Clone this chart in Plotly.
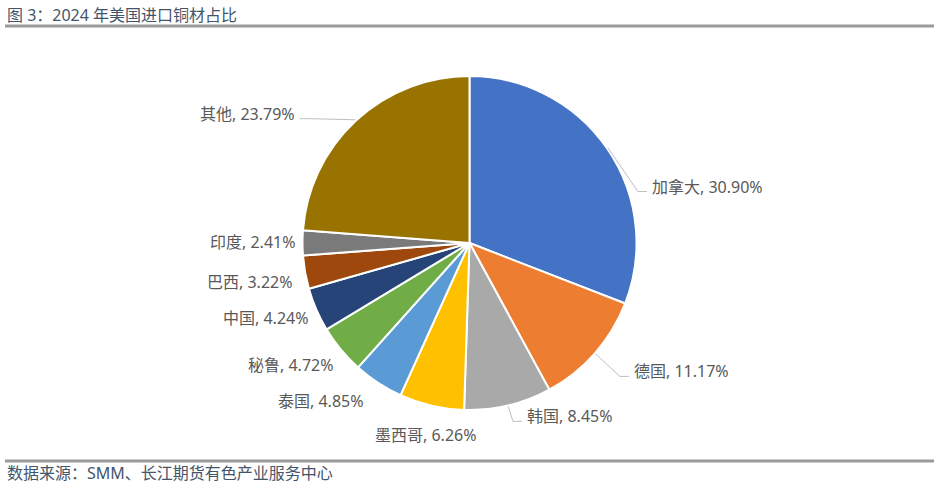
import math
import plotly.graph_objects as go

# ---- data ----
countries = ["加拿大", "德国", "韩国", "墨西哥", "泰国", "秘鲁", "中国", "巴西", "印度", "其他"]
shares = [30.90, 11.17, 8.45, 6.26, 4.85, 4.72, 4.24, 3.22, 2.41, 23.79]

# ---- style ----
colors = ["#4472C4", "#ED7D31", "#A9A9A9", "#FFC000", "#5B9BD5",
          "#70AD47", "#264478", "#9E480E", "#7A7A7A", "#997300"]
label_gap = [22, 40, 15, 17, 22, 14, 8, 12, 5, 49]          # px beyond pie edge
label_nudge = [17, -3, -4.4, 0.6, 0.1, -2.8, -1.8, -2.5, 0.3, -10.4]  # degrees
leader = [True, True, True, False, False, False, False, False, False, True]

W, H = 940, 486
CX, CY, R = 469.5, 243.0, 167.0
TXT = "#595959"
TITLE_C = "#44546A"
FONT = "Noto Sans, Noto Sans CJK SC, sans-serif"


def px(x):
    return x / W


def py(y):
    return 1 - y / H


fig = go.Figure()
fig.add_trace(go.Pie(
    labels=countries, values=shares, sort=False, direction="clockwise",
    rotation=0, textinfo="none", hoverinfo="label+value",
    marker=dict(colors=colors, line=dict(color="white", width=2)),
    domain=dict(x=[px(CX - R), px(CX + R)], y=[py(CY + R), py(CY - R)]),
    showlegend=False,
))

annotations = []
shapes = []
total = sum(shares)
cum = 0.0
for i, (name, v) in enumerate(zip(countries, shares)):
    mid = (cum + v / 2) / total * 360.0
    cum += v
    th = math.radians(mid + label_nudge[i])
    rr = R + label_gap[i]
    ax = CX + rr * math.sin(th)
    ay = CY - rr * math.cos(th)
    deg = (mid + label_nudge[i]) % 360
    if abs(deg - 180) < 15:
        xa, ya = "center", "top"
    elif math.sin(th) > 0:
        xa, ya = "left", "middle"
    else:
        xa, ya = "right", "middle"
    annotations.append(dict(
        x=px(ax), y=py(ay), xref="paper", yref="paper", xanchor=xa, yanchor=ya,
        text=f"{name}, {v:.2f}%", showarrow=False,
        font=dict(family=FONT, size=16, color=TXT),
    ))
    if leader[i]:
        m = math.radians(mid)
        ex = CX + (R + 1) * math.sin(m)
        ey = CY - (R + 1) * math.cos(m)
        sgn = 1 if xa == "left" else -1
        bx = ax - sgn * 12
        fx = ax - sgn * 3
        ly = ay + 5
        shapes.append(dict(
            type="path", xref="paper", yref="paper",
            path=f"M {px(ex)},{py(ey)} L {px(bx)},{py(ly)} L {px(fx)},{py(ly)}",
            line=dict(color="#BFBFBF", width=1),
        ))

# title and source
annotations.append(dict(
    x=px(5), y=py(15), xref="paper", yref="paper", xanchor="left", yanchor="middle",
    text="图 3：2024 年美国进口铜材占比", showarrow=False,
    font=dict(family=FONT, size=16, color=TITLE_C),
))
annotations.append(dict(
    x=px(5), y=py(473), xref="paper", yref="paper", xanchor="left", yanchor="middle",
    text="数据来源：SMM、长江期货有色产业服务中心", showarrow=False,
    font=dict(family=FONT, size=16, color=TITLE_C),
))
for yy in (26, 461):
    shapes.append(dict(type="line", xref="paper", yref="paper",
                       x0=px(5), x1=px(934), y0=py(yy), y1=py(yy),
                       line=dict(color="#9A9A9A", width=3)))

fig.update_layout(
    width=W, height=H, margin=dict(l=0, r=0, t=0, b=0),
    paper_bgcolor="white", plot_bgcolor="white",
    annotations=annotations, shapes=shapes,
)

fig.write_html("out.html", config={"displayModeBar": False},
               post_script="document.body.style.margin='0';document.body.style.overflow='hidden';")
